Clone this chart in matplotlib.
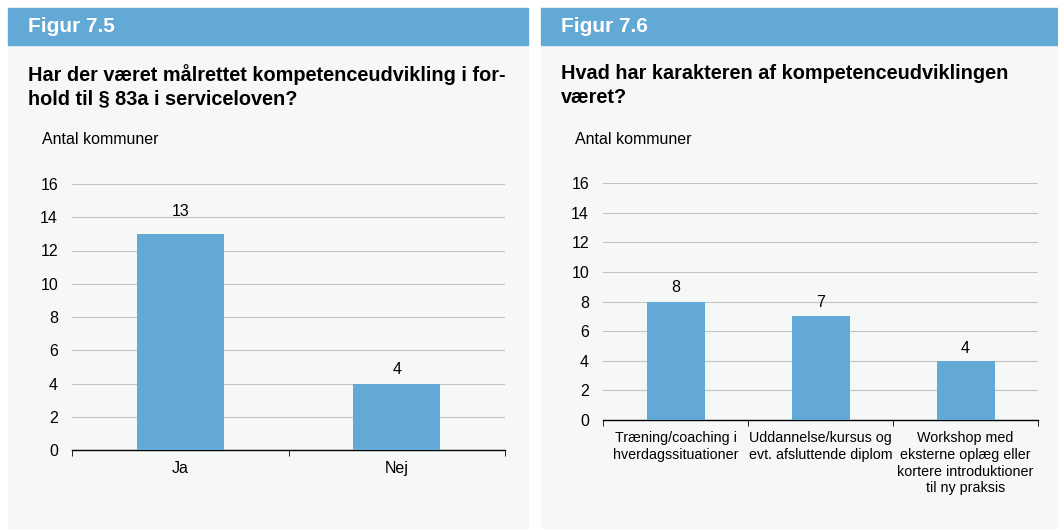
import matplotlib.pyplot as plt
from matplotlib.patches import Rectangle

plt.rcParams['font.family'] = ['Liberation Sans', 'DejaVu Sans']

W, H = 1058, 529

# data
cats_75 = ['Ja', 'Nej']
vals_75 = [13, 4]
cats_76 = ['Træning/coaching i\nhverdagssituationer',
           'Uddannelse/kursus og\nevt. afsluttende diplom',
           'Workshop med\neksterne oplæg eller\nkortere introduktioner\ntil ny praksis']
vals_76 = [8, 7, 4]
yticks = [0, 2, 4, 6, 8, 10, 12, 14, 16]

blue = '#63a9d5'
panel_bg = '#f6f8f8'

fig = plt.figure(figsize=(W / 100, H / 100), dpi=100)
fig.patch.set_facecolor('white')


def px(x0, y0, x1, y1):
    # pixel box (top-left origin) -> figure fraction
    return [x0 / W, 1 - y1 / H, (x1 - x0) / W, (y1 - y0) / H]


def panel(x0, x1, fig_label, question, ax_box, cats, vals, cat_size, label_gap):
    fig.patches.append(Rectangle((x0 / W, 0), (x1 - x0) / W, 1 - 45 / H,
                                 transform=fig.transFigure, color=panel_bg, zorder=-5))
    fig.patches.append(Rectangle((x0 / W, 1 - 45 / H), (x1 - x0) / W, 37 / H,
                                 transform=fig.transFigure, color=blue, zorder=-5))
    fig.text((x0 + 20) / W, 1 - 27 / H, fig_label, color='white', fontsize=15,
             fontweight='bold', va='center', ha='left')
    fig.text((x0 + 20) / W, 1 - 64 / H, question, color='black', fontsize=14.3,
             fontweight='bold', va='top', ha='left', linespacing=1.32,
             multialignment='left')
    fig.text((x0 + 34) / W, 1 - 140 / H, 'Antal kommuner', fontsize=11.5,
             va='center', ha='left')

    ax = fig.add_axes(px(*ax_box))
    ax.set_zorder(2)
    ax.set_facecolor('none')
    n = len(cats)
    xs = list(range(n))
    ax.bar(xs, vals, width=0.4, color=blue, zorder=3)
    for x, v, g in zip(xs, vals, label_gap):
        ax.annotate(str(v), (x, v), xytext=(0, g * 0.72), textcoords='offset points',
                    ha='center', va='baseline', fontsize=11.5)
    ax.set_xlim(-0.5, n - 0.5)
    ax.set_ylim(0, 16)
    ax.set_yticks(yticks)
    ax.tick_params(axis='y', length=0, labelsize=11.5, pad=10)
    ax.yaxis.grid(True, color='#c3c3c3', linewidth=0.8)
    ax.set_xticks(xs)
    ax.set_xticklabels(cats, fontsize=cat_size, linespacing=1.25)
    ax.set_xticks([i - 0.5 for i in range(n + 1)], minor=True)
    ax.tick_params(axis='x', which='major', length=0, pad=8)
    ax.tick_params(axis='x', which='minor', length=4, direction='out', color='black')
    for s in ['top', 'right', 'left']:
        ax.spines[s].set_visible(False)
    ax.spines['bottom'].set_color('black')
    ax.spines['bottom'].set_linewidth(1)
    ax.set_axisbelow(True)
    return ax


panel(8, 528, 'Figur 7.5',
      'Har der været målrettet kompetenceudvikling i for-\nhold til § 83a i serviceloven?',
      (72, 184, 505, 450), cats_75, vals_75, 11.5, [18, 9])
panel(541, 1058, 'Figur 7.6',
      'Hvad har karakteren af kompetenceudviklingen\nværet?',
      (603, 183, 1038, 420), cats_76, vals_76, 10.3, [9, 9, 8])

fig.savefig('out.png', dpi=100, facecolor='white')
